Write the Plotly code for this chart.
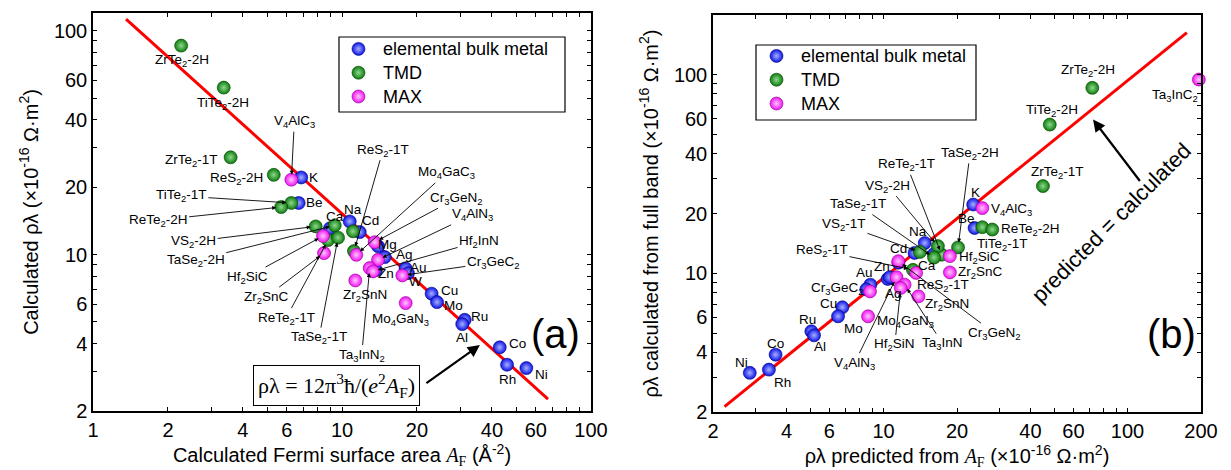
import math
import re
import plotly.graph_objects as go

# ---------------- data ----------------
# Left panel: calculated Fermi surface area A_F (Å^-2) vs calculated rho*lambda (1e-16 Ohm m^2)
elem_names = ["K", "Be", "Na", "Cd", "Ca", "Mg", "Ag", "Zn", "Au", "W", "Cu", "Mo", "Ru", "Al", "Co", "Rh", "Ni"]
left_elem_af = [6.86, 6.70, 10.74, 11.78, 8.95, 13.95, 14.85, 13.69, 18.0, 18.4, 22.9, 24.07, 31.1, 30.4, 43.0, 46.0, 55.0]
left_elem_rl = [22.1, 17.0, 14.06, 12.6, 13.1, 10.9, 9.74, 8.52, 8.67, 8.26, 6.69, 6.13, 5.11, 4.89, 3.85, 3.22, 3.11]

left_tmd_names = ["ZrTe2-2H", "TiTe2-2H", "ZrTe2-1T", "ReS2-2H", "TiTe2-1T", "ReTe2-2H", "VS2-2H",
                  "TaSe2-2H", "ReTe2-1T", "TaSe2-1T", "VS2-1T", "ReS2-1T"]
left_tmd_af = [2.26, 3.35, 3.57, 5.32, 6.26, 5.70, 7.84, 9.35, 8.79, 9.64, 11.07, 11.17]
left_tmd_rl = [85.8, 55.7, 27.2, 22.7, 17.0, 16.3, 13.36, 13.5, 11.6, 11.9, 12.7, 10.36]

left_max_names = ["V4AlC3", "Hf2SiC", "Zr2SnC", "Mo4GaC3", "Cr3GeN2", "V4AlN3", "Ta3InN2", "Hf2InN",
                  "Zr2SnN", "Cr3GeC2", "Mo4GaN3"]
left_max_af = [6.26, 8.39, 8.47, 11.42, 13.53, 13.95, 12.92, 13.32, 11.31, 17.47, 18.02]
left_max_rl = [21.6, 12.1, 10.15, 9.97, 11.36, 9.47, 8.70, 8.41, 7.66, 8.07, 6.07]

left_line_af = [1.357, 67.2]
left_line_rl = [112.6, 2.26]

# Right panel: predicted from A_F vs calculated from full band
right_elem_pred = [23.3, 23.6, 14.75, 13.4, 16.1, 11.5, 10.4, 10.6, 8.83, 8.5, 6.78, 6.51, 5.06, 5.19, 3.61, 3.39, 2.83]
right_elem_full = [22.2, 16.9, 14.2, 12.66, 12.5, 11.3, 9.36, 9.55, 8.76, 8.3, 6.74, 6.07, 5.10, 4.87, 3.89, 3.27, 3.15]

right_tmd_names = ["ZrTe2-2H", "TiTe2-2H", "ZrTe2-1T", "TiTe2-1T", "ReTe2-2H", "TaSe2-2H", "ReTe2-1T",
                   "VS2-2H", "TaSe2-1T", "VS2-1T", "ReS2-1T"]
right_tmd_pred = [71.7, 48.0, 45.0, 25.4, 27.9, 20.2, 17.3, 16.7, 16.1, 14.1, 13.2]
right_tmd_full = [85.9, 56.1, 27.5, 17.06, 16.6, 13.5, 12.4, 13.7, 12.0, 12.8, 10.4]

right_max_names = ["Ta3InC2", "V4AlC3", "Hf2SiC", "Zr2SnC", "Cr3GeN2", "Mo4GaC3", "V4AlN3", "Ta3InN",
                   "Hf2SiN", "Zr2SnN", "Cr3GeC2", "Mo4GaN3"]
right_max_pred = [196, 25.4, 18.7, 18.7, 11.5, 13.6, 11.3, 12.2, 11.76, 13.9, 8.8, 8.64]
right_max_full = [94.6, 21.3, 12.2, 10.1, 11.5, 10.04, 9.55, 8.76, 8.43, 7.65, 8.1, 6.07]

right_line_pred = [2.23, 175]
right_line_full = [2.13, 163]

left_x_ticks = [1, 2, 4, 6, 10, 20, 40, 60, 100]
left_y_ticks = [2, 4, 6, 10, 20, 40, 60, 100]
right_ticks = [2, 4, 6, 10, 20, 40, 60, 100, 200]

group_names = ["elemental bulk metal", "TMD", "MAX"]

# ---------------- styling ----------------
FONT = "Arial, Liberation Sans, sans-serif"
SERIF = "Times New Roman, Liberation Serif, serif"
W, H = 1231, 470
LBL = 13.5
styles = {
    "elemental bulk metal": dict(color="#0b14e6", grad="#a9b0ff", edge="#000080"),
    "TMD": dict(color="#0c7d0c", grad="#8fd88f", edge="#004000"),
    "MAX": dict(color="#f20ff2", grad="#ffc8ff", edge="#900090"),
}


def sub(s):
    return re.sub(r"([A-Za-z])(\d)", r"\1<sub>\2</sub>", s)


def marker(g):
    st = styles[g]
    return dict(size=13, color=st["color"], gradient=dict(type="radial", color=st["grad"]),
                line=dict(width=0.6, color=st["edge"]))


def legend_name(g):
    return "<span style='font-size:18px'>" + g + "</span>"


fig = go.Figure()

left_sets = [(elem_names, left_elem_af, left_elem_rl), (left_tmd_names, left_tmd_af, left_tmd_rl),
             (left_max_names, left_max_af, left_max_rl)]
right_sets = [(elem_names, right_elem_pred, right_elem_full), (right_tmd_names, right_tmd_pred, right_tmd_full),
              (right_max_names, right_max_pred, right_max_full)]

fig.add_trace(go.Scatter(x=left_line_af, y=left_line_rl, mode="lines", line=dict(color="#ff0000", width=3),
                         showlegend=False, xaxis="x", yaxis="y", hoverinfo="skip"))
fig.add_trace(go.Scatter(x=right_line_pred, y=right_line_full, mode="lines", line=dict(color="#ff0000", width=3),
                         showlegend=False, xaxis="x2", yaxis="y2", hoverinfo="skip"))

for g, (nm, xs, ys) in zip(group_names, left_sets):
    fig.add_trace(go.Scatter(x=xs, y=ys, mode="markers", name=legend_name(g), text=nm, marker=marker(g),
                             xaxis="x", yaxis="y", legend="legend", cliponaxis=False))
for g, (nm, xs, ys) in zip(group_names, right_sets):
    fig.add_trace(go.Scatter(x=xs, y=ys, mode="markers", name=legend_name(g), text=nm, marker=marker(g),
                             xaxis="x2", yaxis="y2", legend="legend2", cliponaxis=False))

left_pts = {}
for nm, xs, ys in left_sets:
    for n, a, b in zip(nm, xs, ys):
        left_pts.setdefault(n, (a, b))
right_pts = {}
for nm, xs, ys in right_sets:
    for n, a, b in zip(nm, xs, ys):
        right_pts.setdefault(n, (a, b))

# labels: (text, point name, dx, dy, arrow)  dx/dy in pixels from point (screen coords)
left_labels = [
    ("ZrTe2-2H", "ZrTe2-2H", 1, 15, False), ("TiTe2-2H", "TiTe2-2H", -1, 16, False),
    ("ZrTe2-1T", "ZrTe2-1T", -39, 3, False), ("ReS2-2H", "ReS2-2H", -37, 4, False),
    ("V4AlC3", "V4AlC3", 3, -58, True), ("K", "K", 12, 0, False), ("Be", "Be", 16, 0, False),
    ("TiTe2-1T", "TiTe2-1T", -110, -7, True), ("ReTe2-2H", "ReTe2-2H", -123, 13, True),
    ("Na", "Na", 3, -12, False), ("Cd", "Cd", 11, -12, False), ("Ca", "Ca", 5, -12, False),
    ("Mg", "Mg", 9, -2, False), ("Ag", "Ag", 20, -3, False), ("Au", "Au", 13, -1, False),
    ("Zn", "Zn", 10, 3, False), ("W", "W", 8, 8, False), ("Cu", "Cu", 18, -3, False),
    ("Mo", "Mo", 17, 3, False), ("Ru", "Ru", 15, -3, False), ("Al", "Al", 0, 13, False),
    ("Co", "Co", 18, -4, False), ("Rh", "Rh", 0, 15, False), ("Ni", "Ni", 15, 6, False),
    ("ReS2-1T", "ReS2-1T", 29, -101, True), ("Mo4GaC3", "Mo4GaC3", 90, -82, True),
    ("Cr3GeN2", "Cr3GeN2", 82, -44, True), ("V4AlN3", "V4AlN3", 94, -45, True),
    ("Hf2InN", "Hf2InN", 106, -30, True), ("Cr3GeC2", "Cr3GeC2", 91, -13, True),
    ("VS2-2H", "VS2-2H", -122, 15, True), ("TaSe2-2H", "TaSe2-2H", -139, 35, True),
    ("Hf2SiC", "Hf2SiC", -76, 41, True), ("Zr2SnC", "Zr2SnC", -58, 44, True),
    ("ReTe2-1T", "ReTe2-1T", -42, 78, True), ("TaSe2-1T", "TaSe2-1T", -19, 100, True),
    ("Zr2SnN", "Zr2SnN", 10, 15, False), ("Mo4GaN3", "Mo4GaN3", -5, 16, False),
    ("Ta3InN2", "Ta3InN2", -8, 87, True),
]
right_labels = [
    ("ZrTe2-2H", "ZrTe2-2H", -4, -17, False), ("TiTe2-2H", "TiTe2-2H", 2, -14, False),
    ("ZrTe2-1T", "ZrTe2-1T", 15, -14, False), ("Ta3InC2", "Ta3InC2", -24, 16, False),
    ("K", "K", 2, -12, False), ("V4AlC3", "V4AlC3", 29, 1, False), ("Be", "Be", -8, -10, False),
    ("ReTe2-2H", "ReTe2-2H", 38, 0, False), ("TiTe2-1T", "TiTe2-1T", 20, 17, False),
    ("Hf2SiC", "Hf2SiC", 30, 1, False), ("Zr2SnC", "Zr2SnC", 31, 0, False),
    ("Na", "Na", -7, -12, False), ("Cd", "Cd", -16, -4, False), ("Ca", "Ca", -7, 11, False),
    ("Zn", "Zn", -8, -11, False), ("Au", "Au", -6, -12, False), ("Ag", "Ag", 6, 15, False),
    ("Cr3GeC2", "Cr3GeC2", -33, -3, False), ("Cu", "Cu", -14, -4, False), ("Mo", "Mo", 15, 12, False),
    ("Ru", "Ru", -4, -12, False), ("Al", "Al", 6, 11, False), ("Co", "Co", 0, -11, False),
    ("Ni", "Ni", -8, -10, False), ("Rh", "Rh", 14, 13, False),
    ("Zr2SnN", "Zr2SnN", 29, 8, False), ("Mo4GaN3", "Mo4GaN3", 37, 5, False),
    ("ReS2-1T", "ReS2-1T", -91, -19, True), ("ReS2-1T", "ReS2-1T", 30, 16, False),
    ("Cr3GeN2", "Cr3GeN2", 96, 72, True), ("V4AlN3", "V4AlN3", -42, 86, True),
    ("Hf2SiN", "Hf2SiN", -6, 57, True), ("Ta3InN", "Ta3InN", 38, 59, True),
    ("TaSe2-2H", "TaSe2-2H", 12, -94, True), ("ReTe2-1T", "ReTe2-1T", -35, -90, True),
    ("VS2-2H", "VS2-2H", -50, -60, True), ("TaSe2-1T", "TaSe2-1T", -76, -53, True),
    ("VS2-1T", "VS2-1T", -76, -27, True),
]

annotations = []


def add_labels(labels, pts, xr, yr):
    for text, name, dx, dy, arrow in labels:
        px, py = pts[name]
        base = dict(x=math.log10(px), y=math.log10(py), xref=xr, yref=yr, text=sub(text),
                    font=dict(family=FONT, size=LBL, color="black"))
        if arrow:
            base.update(showarrow=True, ax=dx, ay=dy, arrowhead=2, arrowsize=0.9, arrowwidth=0.9,
                        arrowcolor="black", standoff=5)
        else:
            base.update(showarrow=False, xshift=dx, yshift=-dy)
        annotations.append(base)


add_labels(left_labels, left_pts, "x", "y")
add_labels(right_labels, right_pts, "x2", "y2")

# formula box and arrows, panel letters
annotations.append(dict(x=math.log10(9.5), y=math.log10(2.6), xref="x", yref="y", showarrow=False,
                        text="ρλ = 12π<sup>3</sup>ħ/(<i>e</i><sup>2</sup><i>A</i><sub>F</sub>)",
                        font=dict(family=SERIF, size=22, color="black"), bordercolor="black",
                        borderwidth=1, borderpad=4, bgcolor="white"))
annotations.append(dict(x=math.log10(35.8), y=math.log10(3.94), xref="x", yref="y", text="",
                        showarrow=True, ax=-55, ay=39, arrowhead=2, arrowsize=1.1, arrowwidth=2.2,
                        arrowcolor="black"))
annotations.append(dict(x=math.log10(72.3), y=math.log10(4.41), xref="x", yref="y", text="(a)",
                        showarrow=False, font=dict(family=FONT, size=40, color="black")))
annotations.append(dict(x=math.log10(150.7), y=math.log10(4.95), xref="x2", yref="y2", text="(b)",
                        showarrow=False, font=dict(family=FONT, size=40, color="black")))
annotations.append(dict(x=math.log10(86.0), y=math.log10(18.0), xref="x2", yref="y2",
                        text="predicted = calculated", textangle=-45, showarrow=False,
                        font=dict(family=FONT, size=22, color="black")))
annotations.append(dict(x=math.log10(72.2), y=math.log10(59.5), xref="x2", yref="y2", text="",
                        showarrow=True, ax=48, ay=63, arrowhead=2, arrowsize=1.1, arrowwidth=2.2,
                        arrowcolor="black"))


def axis(tickvals, rng, domain, anchor, title, standoff):
    return dict(type="log", range=rng, domain=domain, anchor=anchor, tickmode="array", tickvals=tickvals,
                ticktext=[str(v) for v in tickvals], ticks="inside", ticklen=4, tickwidth=1.2,
                tickcolor="black", showline=True, linecolor="black", linewidth=1.5, mirror="ticks",
                showgrid=False, zeroline=False, automargin=False,
                minor=dict(ticks="inside", ticklen=4, tickwidth=1, tickcolor="black", dtick="D1",
                           showgrid=False),
                tickfont=dict(family=FONT, size=20, color="black"),
                title=dict(text=title, standoff=standoff, font=dict(family=FONT, size=20, color="black")))


def long_ticks(rng, over, anchor, vals, side):
    return dict(type="log", range=rng, overlaying=over, anchor=anchor, side=side, tickmode="array",
                tickvals=vals, ticks="inside", ticklen=8, tickwidth=1.2, tickcolor="black",
                showticklabels=False, showline=False, mirror="ticks", showgrid=False, zeroline=False,
                automargin=False)


AF_T = "<span style='font-family:Times New Roman, Liberation Serif, serif'><i>A</i><sub>F</sub></span>"
xl = [0, 2]
yl = [math.log10(2), math.log10(120)]
xr = [math.log10(2), math.log10(200)]
yr = [math.log10(2), math.log10(200)]
dom_xl = [85 / W, 583 / W]
dom_xr = [705 / W, 1193 / W]
dom_yl = [(H - 403) / H, (H - 5) / H]
dom_yr = [(H - 404) / H, (H - 7) / H]

legend_common = dict(xanchor="left", yanchor="top", borderwidth=0, bgcolor="rgba(0,0,0,0)",
                     font=dict(family=FONT, size=16, color="black"), tracegroupgap=0, itemwidth=39)

shapes = [
    dict(type="rect", xref="paper", yref="paper", x0=331 / W, x1=557 / W, y0=1 - 104 / H, y1=1 - 29 / H,
         line=dict(color="black", width=1.2), fillcolor="rgba(0,0,0,0)"),
    dict(type="rect", xref="paper", yref="paper", x0=748 / W, x1=968 / W, y0=1 - 112 / H, y1=1 - 37 / H,
         line=dict(color="black", width=1.2), fillcolor="rgba(0,0,0,0)"),
]

fig.update_layout(
    width=W, height=H, margin=dict(l=0, r=0, t=0, b=0, autoexpand=False),
    paper_bgcolor="white", plot_bgcolor="white",
    xaxis=axis(left_x_ticks, xl, dom_xl, "y", "Calculated Fermi surface area " + AF_T + " (Å<sup>-2</sup>)", 8),
    yaxis=axis(left_y_ticks, yl, dom_yl, "x", "Calculated ρλ (×10<sup>-16</sup> Ω·m<sup>2</sup>)", 10),
    xaxis2=axis(right_ticks, xr, dom_xr, "y2",
                "ρλ predicted from " + AF_T + " (×10<sup>-16</sup> Ω·m<sup>2</sup>)", 8),
    yaxis2=axis(right_ticks, yr, dom_yr, "x2",
                "ρλ calculated from full band (×10<sup>-16</sup> Ω·m<sup>2</sup>)", 10),
    xaxis3=long_ticks(xl, "x", "y", [1, 10, 100], "bottom"),
    yaxis3=long_ticks(yl, "y", "x", [10, 100], "left"),
    xaxis4=long_ticks(xr, "x2", "y2", [10, 100], "bottom"),
    yaxis4=long_ticks(yr, "y2", "x2", [10, 100], "left"),
    legend=dict(x=326 / W, y=1 - 24 / H, **legend_common),
    legend2=dict(x=744 / W, y=1 - 31 / H, **legend_common),
    shapes=shapes,
    annotations=annotations,
    showlegend=True,
)

fig.write_html("out.html")
